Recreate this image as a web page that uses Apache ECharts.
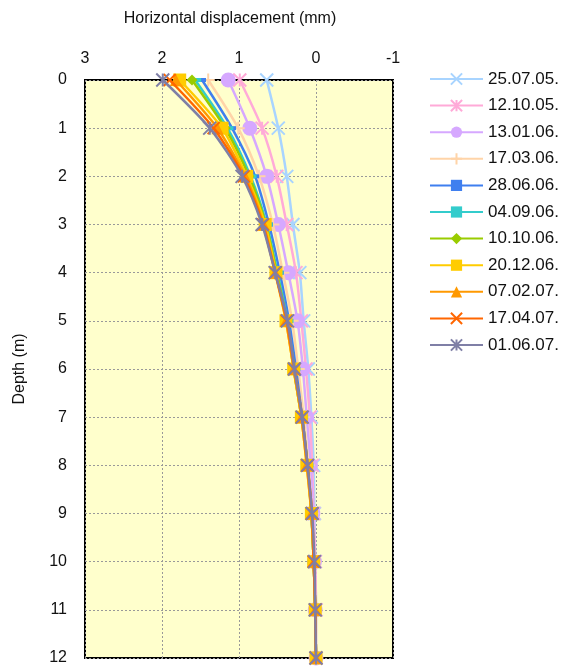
<!DOCTYPE html>
<html><head><meta charset="utf-8">
<script src="https://cdn.jsdelivr.net/npm/echarts@6/dist/echarts.min.js"></script>
<style>html,body{margin:0;padding:0;background:#fff}#c{width:561px;height:671px}</style>
</head><body><div id="c"></div>
<script>
const depths = [0,1,2,3,4,5,6,7,8,9,10,11,12];
const xTicks = [3,2,1,0,-1];
const seriesNames = ["25.07.05.","12.10.05.","13.01.06.","17.03.06.","28.06.06.","04.09.06.","10.10.06.","20.12.06.","07.02.07.","17.04.07.","01.06.07."];
const s_250705 = [0.64,0.49,0.38,0.30,0.21,0.16,0.10,0.06,0.03,0.02,0.01,0.00,0.00];
const s_121005 = [0.99,0.70,0.51,0.38,0.26,0.19,0.13,0.08,0.05,0.03,0.01,0.00,0.00];
const s_130106 = [1.14,0.86,0.64,0.49,0.36,0.24,0.17,0.12,0.07,0.04,0.02,0.01,0.00];
const s_170306 = [1.40,1.01,0.74,0.56,0.43,0.31,0.23,0.16,0.10,0.05,0.02,0.01,0.00];
const s_280606 = [1.48,1.09,0.79,0.61,0.47,0.35,0.26,0.18,0.11,0.06,0.03,0.01,0.00];
const s_040906 = [1.57,1.15,0.85,0.64,0.50,0.37,0.28,0.18,0.11,0.06,0.03,0.01,0.00];
const s_101006 = [1.61,1.18,0.87,0.65,0.51,0.38,0.29,0.19,0.11,0.06,0.03,0.01,0.00];
const s_201206 = [1.77,1.22,0.90,0.66,0.52,0.39,0.29,0.19,0.12,0.06,0.03,0.01,0.00];
const s_070207 = [1.82,1.28,0.92,0.68,0.53,0.39,0.29,0.19,0.12,0.06,0.03,0.01,0.00];
const s_170407 = [1.90,1.33,0.94,0.69,0.53,0.38,0.28,0.18,0.11,0.05,0.03,0.01,0.00];
const s_010607 = [1.99,1.38,0.96,0.70,0.53,0.37,0.28,0.18,0.11,0.05,0.02,0.01,0.00];
const allValues = [s_250705,s_121005,s_130106,s_170306,s_280606,s_040906,s_101006,s_201206,s_070207,s_170407,s_010607];

const colors = ["#A8D4FF","#FFAAD8","#D6A8FF","#FFD4A8","#3F7FEF","#33CCCC","#99CC00","#FFCC00","#FF9900","#FF6600","#7F7FA6"];
const X = 'path://M0,0L10,10M10,0L0,10';
const AST = 'path://M0,0L10,10M10,0L0,10M5,0L5,10';
const PLUS = 'path://M5,0L5,10M0,5L10,5';
const symbols = [X, AST, 'circle', PLUS, 'rect', 'rect', 'diamond', 'rect', 'triangle', X, AST];
const sizes = [13, 13, 15, 13, [8,4], [12,4], 11, 13, 12, 12, 13];
const strokeSym = [true, true, false, true, false, false, false, false, false, true, true];

const series = seriesNames.map((n, i) => ({
  name: n,
  type: 'line',
  smooth: 0.25,
  data: allValues[i].map((v, k) => [v, depths[k]]),
  symbol: symbols[i],
  symbolSize: sizes[i],
  showAllSymbol: true,
  lineStyle: { color: colors[i], width: 2.5 },
  itemStyle: { color: colors[i], borderColor: colors[i], borderWidth: strokeSym[i] ? 2 : 0 },
  z: 2 + i
}));

const chart = echarts.init(document.getElementById('c'), null, { renderer: 'canvas' });
chart.setOption({
  animation: false,
  textStyle: { fontFamily: 'Liberation Sans, Arial, sans-serif' },
  grid: { left: 85, right: 168, top: 80, bottom: 13, show: true, backgroundColor: '#FFFFCC', borderColor: '#000', borderWidth: 2 },
  legend: {
    orient: 'vertical', left: 429, top: 70, padding: 0,
    itemWidth: 53, itemHeight: 14, itemGap: 8.6,
    textStyle: { fontSize: 17, lineHeight: 18, color: '#111', fontFamily: 'Liberation Sans, Arial, sans-serif', overflow: 'none', width: 80 },
    data: seriesNames
  },
  xAxis: {
    type: 'value', position: 'top', inverse: true, min: -1, max: 3, interval: 1,
    name: 'Horizontal displacement (mm)', nameLocation: 'middle', nameGap: 53,
    nameTextStyle: { fontSize: 16, color: '#111', padding: [0, 18, 0, 0] },
    axisLine: { show: false }, axisTick: { show: false },
    axisLabel: { fontSize: 16, color: '#111', margin: 13, formatter: v => xTicks.includes(v) ? String(v) : '' },
    splitLine: { show: true, lineStyle: { color: '#999', type: [2, 2], width: 1 } }
  },
  yAxis: {
    type: 'value', inverse: true, min: 0, max: 12, interval: 1,
    name: 'Depth (m)', nameLocation: 'middle', nameGap: 57, nameRotate: 90,
    nameTextStyle: { fontSize: 16, color: '#111' },
    axisLine: { show: false }, axisTick: { show: false },
    axisLabel: { fontSize: 16, color: '#111', margin: 18 },
    splitLine: { show: true, lineStyle: { color: '#999', type: [2, 2], width: 1 } }
  },
  series: series
});
</script></body></html>
